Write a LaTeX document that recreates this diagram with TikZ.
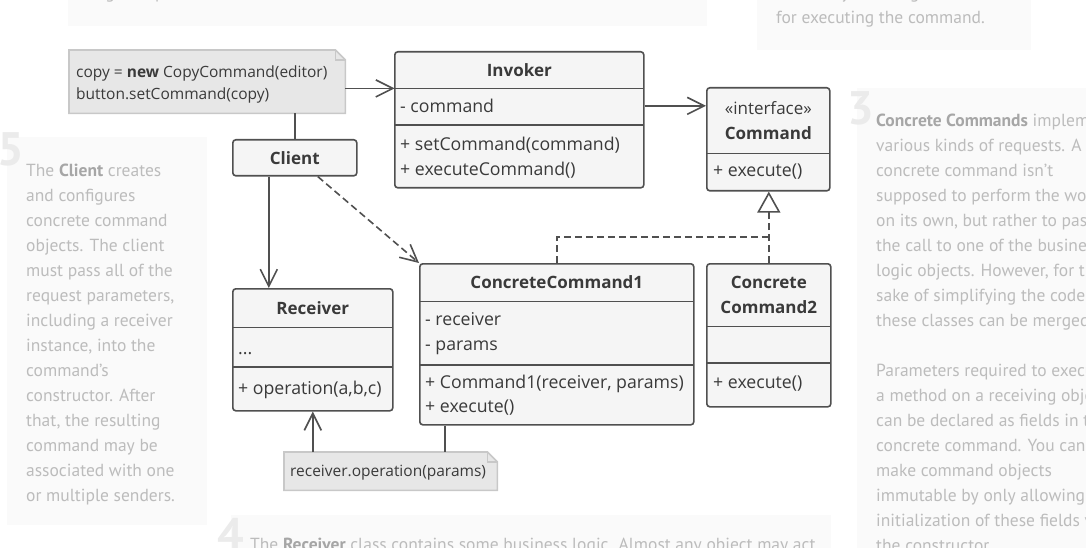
\documentclass[tikz,border=0pt]{standalone}
\usepackage{fontspec}
\setmainfont{PT Sans}
\newfontfamily\umlfont{Open Sans}
\usetikzlibrary{arrows.meta,positioning,backgrounds}

\definecolor{umlline}{HTML}{505050}
\definecolor{umltext}{HTML}{3A3A3A}
\definecolor{umlfill}{HTML}{F5F5F5}
\definecolor{notefill}{HTML}{E7E7E7}
\definecolor{noteline}{HTML}{C8C8C8}
\definecolor{hintbg}{HTML}{FAFAFA}
\definecolor{hinttext}{HTML}{BCBCBC}
\definecolor{hintbold}{HTML}{A6A6A6}
\definecolor{hintnum}{HTML}{EBEBEB}

\newcommand{\kw}[1]{\textbf{\color{hintbold}#1}}

\tikzset{
  classbox/.style={draw=umlline, fill=umlfill, line width=1.6pt, rounded corners=3pt,
    anchor=north west, inner sep=0pt},
  header/.style={inner sep=0pt, align=center, text=umltext,
    font=\umlfont\bfseries\fontsize{17}{25}\selectfont},
  member/.style={inner sep=0pt, anchor=base west, text=umltext,
    font=\umlfont\fontsize{17.7}{25}\selectfont},
  notetext/.style={member, font=\umlfont\fontsize{15.5}{22}\selectfont},
  divider/.style={draw=umlline, line width=1.6pt},
  note/.style={inner sep=0pt, anchor=north west},
  noteshape/.style={fill=notefill, draw=noteline, line width=1.6pt},
  link/.style={draw=umlline, line width=1.6pt},
  assoc/.style={link, -{Straight Barb[length=17pt, width=17pt]}},
  depend/.style={assoc, dash pattern=on 7pt off 4pt},
  realize/.style={link, dash pattern=on 7pt off 4pt},
  hinttext/.style={anchor=base west, inner sep=0pt, align=left, text=hinttext,
    font=\fontsize{17.5}{25}\selectfont},
  hintnum/.style={anchor=base west, inner sep=0pt, text=hintnum,
    font=\bfseries\fontsize{47}{47}\selectfont},
}

\begin{document}
\begin{tikzpicture}[x=1pt,y=-1pt]
\useasboundingbox (0,0) rectangle (1086,548);
\clip (0,0) rectangle (1086,548);

% side notes (multi-line texts sit on the baseline of their last line)
\fill[hintbg] (68,-10) rectangle (707,26);
\fill[hintbg] (757,-10) rectangle (1031,50);
\fill[hintbg] (7,137) rectangle (207,525);
\fill[hintbg] (857,88) rectangle (1100,560);
\fill[hintbg] (231,515) rectangle (831,560);

\node[hinttext] (sendertext) at (90,-1) {it gets a pre-created command from the client via the constructor.};
\node[hinttext] (ifacetext) at (776,24) {declares just a single method\\for executing the command.};
\node[hintnum] (numfive) at (-3,166) {5};
\node[hinttext] (clienttext) at (26,501) {The \kw{Client} creates\\and configures\\concrete command\\objects. The client\\must pass all of the\\request parameters,\\including a receiver\\instance, into the\\command’s\\constructor. After\\that, the resulting\\command may be\\associated with one\\or multiple senders.};
\node[hintnum] (numthree) at (847,125) {3};
\node[hinttext] (concretetext) at (876,551) {\kw{Concrete Commands} implement\\various kinds of requests. A\\concrete command isn’t\\supposed to perform the work\\on its own, but rather to pass\\the call to one of the business\\logic objects. However, for the\\sake of simplifying the code,\\these classes can be merged.\\[25pt]Parameters required to execute\\a method on a receiving object\\can be declared as fields in the\\concrete command. You can\\make command objects\\immutable by only allowing the\\initialization of these fields via\\the constructor.};
\node[hintnum] (numfour) at (217,551) {4};
\node[hinttext] (receivertext) at (250,550) {The \kw{Receiver} class contains some business logic. Almost any object may act};

% client and its note
\node[note, minimum width=276pt, minimum height=63pt] (copynote) at (69,50) {};
\node[notetext] (copyline) at (76,77.5) {copy = \textbf{new} CopyCommand(editor)};
\node[notetext] (setline) at (76,99.5) {button.setCommand(copy)};
\node[classbox, header, minimum width=124pt, minimum height=36pt] (client) at (232,139) {Client};

% invoker
\node[classbox, minimum width=249pt, minimum height=136pt] (invoker) at (394,51) {};
\node[header, minimum width=249pt, minimum height=37pt, below=0pt of invoker.north] (invhead) {Invoker};
\draw[divider] (invhead.south west) -- (invhead.south east);
\draw[divider] (394,125) -- (643,125);
\node[member] (invfield) at (400,112.5) {- command};
\node[member] (invset) at (400,150.5) {+ setCommand(command)};
\node[member] (invexec) at (400,175.5) {+ executeCommand()};

% command interface
\node[classbox, minimum width=123pt, minimum height=103pt] (command) at (706,87) {};
\node[header, minimum width=123pt, minimum height=66pt, below=0pt of command.north] (cmdhead) {{\mdseries «interface»}\\Command};
\draw[divider] (cmdhead.south west) -- (cmdhead.south east);
\node[member] (cmdexec) at (713,176.5) {+ execute()};

% concrete commands
\node[classbox, minimum width=274pt, minimum height=161pt] (cc1) at (419,263) {};
\node[header, minimum width=274pt, minimum height=38pt, below=0pt of cc1.north] (cc1head) {ConcreteCommand1};
\draw[divider] (cc1head.south west) -- (cc1head.south east);
\draw[divider] (419,365) -- (693,365);
\node[member] (cc1recv) at (425,325.5) {- receiver};
\node[member] (cc1params) at (425,350.5) {- params};
\node[member] (cc1ctor) at (425,388.5) {+ Command1(receiver, params)};
\node[member] (cc1exec) at (425,412.5) {+ execute()};

\node[classbox, minimum width=124pt, minimum height=143pt] (cc2) at (706,263) {};
\node[header, minimum width=124pt, minimum height=63pt, below=0pt of cc2.north] (cc2head) {Concrete\\Command2};
\draw[divider] (cc2head.south west) -- (cc2head.south east);
\draw[divider] (706,363) -- (830,363);
\node[member] (cc2exec) at (713,388.5) {+ execute()};

% receiver and its note
\node[classbox, minimum width=160pt, minimum height=122pt] (receiver) at (232,288) {};
\node[header, minimum width=160pt, minimum height=39pt, below=0pt of receiver.north] (recvhead) {Receiver};
\draw[divider] (recvhead.south west) -- (recvhead.south east);
\draw[divider] (232,367) -- (392,367);
\node[member] (recvfield) at (238,354) {...};
\node[member] (recvop) at (238,394.5) {+ operation(a,b,c)};

\node[note, minimum width=213pt, minimum height=38pt] (opnote) at (284,452) {};
\node[notetext] (opline) at (290,476.5) {receiver.operation(params)};

\begin{scope}[on background layer]
  \filldraw[noteshape] (copynote.south west) -- (copynote.north west)
    -- ([xshift=-10pt]copynote.north east) -- ([yshift=-10pt]copynote.north east)
    -- (copynote.south east) -- cycle;
  \draw[noteline, line width=1.6pt] ([xshift=-10pt]copynote.north east) |- ([yshift=-10pt]copynote.north east);
  \filldraw[noteshape] (opnote.south west) -- (opnote.north west)
    -- ([xshift=-10pt]opnote.north east) -- ([yshift=-10pt]opnote.north east)
    -- (opnote.south east) -- cycle;
  \draw[noteline, line width=1.6pt] ([xshift=-10pt]opnote.north east) |- ([yshift=-10pt]opnote.north east);
\end{scope}

% connectors
\draw[assoc] (copynote.east |- invhead.south) -- (invhead.south west);
\draw[link] (client.north |- copynote.south) -- (client.north);
\draw[assoc] (invoker.east |- invfield) -- (command.west |- invfield);
\draw[assoc] ([xshift=-26pt]client.south) -- ([xshift=-26pt]client.south |- receiver.north);
\draw[depend] ([xshift=23pt]client.south) -- (cc1.north west);
\coordinate (genjoin) at ([yshift=26pt]cc2.north);
\draw[realize] (cc1.north) |- (genjoin);
\draw[realize, -{Triangle[length=21pt, width=23pt, fill=white]}] (cc2.north) -- (cc2.north |- command.south);
\draw[assoc] (receiver.south |- opnote.north) -- (receiver.south);
\draw[link] ([xshift=26pt]cc1.south west) -- ([xshift=26pt]cc1.south west |- opnote.north);
\end{tikzpicture}
\end{document}
